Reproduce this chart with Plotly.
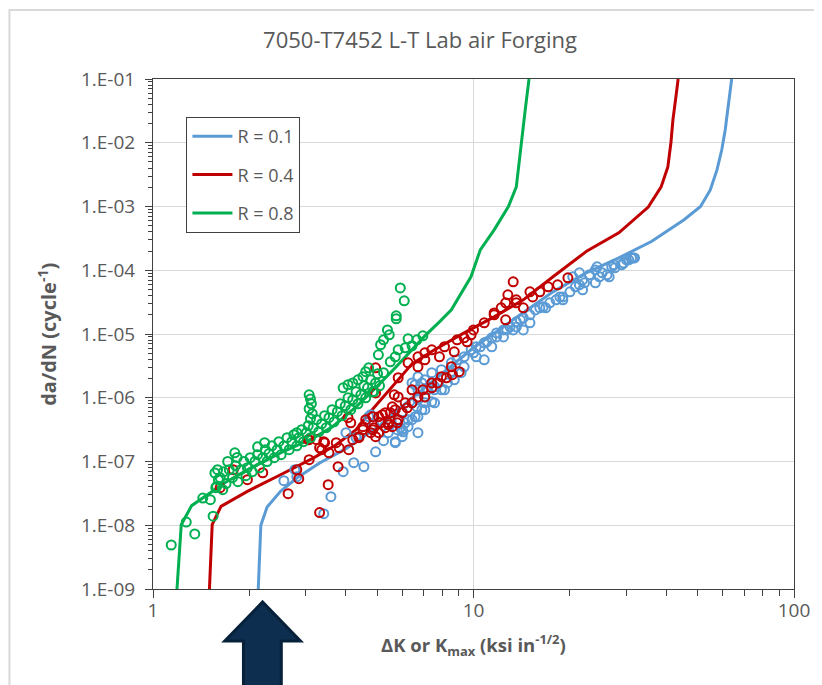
import plotly.graph_objects as go

# ---------------- data ----------------
title_text = "7050-T7452 L-T Lab air Forging"
series_names = ["R = 0.1", "R = 0.4", "R = 0.8"]
series_colors = ["#5B9BD5", "#C00000", "#00B050"]

y_tick_vals = [1e-1, 1e-2, 1e-3, 1e-4, 1e-5, 1e-6, 1e-7, 1e-8, 1e-9]
y_tick_text = ["1.E-01", "1.E-02", "1.E-03", "1.E-04", "1.E-05", "1.E-06", "1.E-07", "1.E-08", "1.E-09"]
x_tick_vals = [1, 10, 100]
x_tick_text = ["1", "10", "100"]

# model curves
blue_model_K = [2.13, 2.17, 2.27, 2.50, 2.81, 3.31, 4.0, 5.06, 5.70, 7.56, 10.0, 13.3, 17.7, 22.4, 28.3,
                35.9, 45.4, 51.1, 54.8, 57.5, 59.5, 61.0, 62.4, 63.9]
blue_model_dadn = [1e-9, 1.0e-8, 1.93e-8, 3.40e-8, 5.5e-8, 9.5e-8, 1.59e-7, 3.55e-7, 6.0e-7, 1.91e-6, 6.08e-6,
                   1.67e-5, 4.58e-5, 9.0e-5, 1.55e-4, 2.82e-4, 6.2e-4, 1.0e-3, 1.82e-3, 3.75e-3, 7.7e-3,
                   1.59e-2, 4.16e-2, 1e-1]

red_model_K = [1.50, 1.53, 1.63, 1.97, 2.50, 3.16, 3.73, 4.30, 4.71, 5.58, 6.43, 7.56, 9.35, 11.6, 14.3,
               17.7, 22.6, 28.4, 35.1, 38.5, 40.4, 41.3, 41.9, 42.8, 43.5]
red_model_dadn = [1e-9, 1.02e-8, 1.98e-8, 3.40e-8, 6.2e-8, 1.13e-7, 1.83e-7, 3.15e-7, 5.6e-7, 1.49e-6, 3.41e-6,
                  5.66e-6, 1.04e-5, 1.86e-5, 3.43e-5, 7.9e-5, 2.01e-4, 3.86e-4, 9.8e-4, 2.03e-3, 4.17e-3,
                  1.0e-2, 2.28e-2, 5.2e-2, 1e-1]

green_model_K = [1.188, 1.225, 1.32, 1.45, 1.67, 1.97, 2.50, 3.16, 3.64, 4.30, 4.95, 5.70, 6.34, 7.05, 7.83,
                 8.53, 9.82, 10.5, 11.6, 12.85, 13.6, 14.1, 14.5, 14.9]
green_model_dadn = [1e-9, 1.02e-8, 2.03e-8, 2.78e-8, 4.6e-8, 7.4e-8, 1.36e-7, 2.33e-7, 3.55e-7, 7.22e-7, 1.43e-6,
                    2.95e-6, 5.26e-6, 9.35e-6, 1.55e-5, 2.39e-5, 7.9e-5, 2.09e-4, 4.30e-4, 1.0e-3, 2.03e-3,
                    8.6e-3, 3.27e-2, 1e-1]

# test data, R = 0.1
blue_K = [2.56, 2.77, 2.81, 3.41, 3.59, 3.92, 4.23, 4.55, 4.95, 4.00, 4.30, 4.71, 4.88, 5.70, 5.78, 5.91, 6.12,
          6.43, 6.71, 6.90, 6.57, 6.90, 7.20, 7.56, 7.94, 8.29, 8.71, 9.15, 6.43, 6.71, 7.05, 7.41, 5.99, 5.82,
          6.03, 6.71, 5.70, 5.99, 6.25, 6.66, 6.43, 6.71, 7.05, 7.41, 6.71, 7.05, 7.56, 7.72, 7.94, 8.53, 8.89,
          9.35, 9.83, 10.2, 10.8, 11.4, 11.8, 12.4, 13.0, 13.6, 14.3, 15.0, 15.6, 16.5, 17.3, 18.1, 19.0, 20.0,
          20.8, 21.9, 23.0, 24.0, 25.2, 26.5, 27.6, 29.0, 30.5, 31.8, 13.6, 14.3, 12.4, 11.4, 10.2, 9.35, 8.53,
          8.12, 7.56, 7.05, 6.57, 6.25, 5.99, 4.78, 10.0, 10.5, 11.0, 11.8, 12.7, 14.0, 16.1, 18.6, 21.4, 24.3,
          24.7, 26.1, 27.4, 30.0, 31.1, 10.8, 13.3, 15.0, 16.8, 19.0, 21.9, 24.0, 20.4, 21.4, 27.0, 29.4, 31.5,
          22.2, 5.24, 5.42, 5.54]
blue_dadn = [5.0e-8, 7.43e-8, 5.78e-8, 1.52e-8, 2.81e-8, 6.91e-8, 9.6e-8, 8.28e-8, 1.42e-7, 2.83e-7, 2.36e-7,
             5.04e-7, 3.78e-7, 2.05e-7, 3.15e-7, 3.39e-7, 4.05e-7, 4.52e-7, 5.04e-7, 6.49e-7, 1.6e-6, 1.71e-6,
             1.33e-6, 1.49e-6, 1.33e-6, 1.71e-6, 1.91e-6, 2.47e-6, 8.34e-7, 9.3e-7, 8.34e-7, 8.65e-7, 6.04e-7,
             4.52e-7, 2.93e-7, 2.83e-7, 1.97e-7, 3.15e-7, 4.52e-7, 7.22e-7, 1.71e-6, 2.14e-6, 1.91e-6, 2.47e-6,
             1.33e-6, 1.03e-6, 1.33e-6, 1.71e-6, 2.75e-6, 3.53e-6, 3.94e-6, 4.39e-6, 5.65e-6, 6.31e-6, 7.26e-6,
             8.7e-6, 1.04e-5, 1.16e-5, 1.29e-5, 1.55e-5, 1.79e-5, 2.0e-5, 2.39e-5, 2.67e-5, 3.09e-5, 3.44e-5,
             3.82e-5, 4.59e-5, 5.49e-5, 7.08e-5, 8.47e-5, 1.01e-4, 9.1e-5, 7.88e-5, 1.09e-4, 1.22e-4, 1.46e-4,
             1.56e-4, 1.29e-5, 1.16e-5, 9.0e-6, 6.31e-6, 4.39e-6, 3.06e-6, 2.47e-6, 1.33e-6, 8.34e-7, 6.49e-7,
             5.04e-7, 3.52e-7, 2.45e-7, 5.42e-7, 5.07e-6, 6.31e-6, 7.53e-6, 9.0e-6, 1.16e-5, 1.67e-5, 2.57e-5,
             3.82e-5, 5.9e-5, 1.13e-4, 7.88e-5, 8.47e-5, 1.22e-4, 1.46e-4, 1.56e-4, 3.94e-6, 1.16e-5, 1.50e-5,
             2.57e-5, 3.44e-5, 4.93e-5, 6.35e-5, 7.88e-5, 9.1e-5, 1.13e-4, 1.30e-4, 1.56e-4, 6.35e-5, 2.12e-7,
             2.83e-7, 4.2e-7]

# test data, R = 0.4
red_K = [1.62, 1.78, 1.97, 2.20, 2.64, 2.85, 2.81, 3.07, 3.31, 3.52, 3.31, 3.54, 3.78, 4.08, 4.20, 4.39, 4.52,
         4.85, 5.06, 5.31, 5.58, 3.05, 3.24, 3.41, 3.36, 3.81, 4.06, 4.14, 4.78, 4.95, 4.88, 5.42, 5.06, 5.20,
         5.50, 5.66, 5.82, 4.95, 5.78, 5.99, 6.21, 6.43, 6.71, 6.95, 7.41, 7.72, 8.23, 8.59, 9.02, 4.95, 5.82,
         6.25, 6.71, 7.05, 7.41, 7.83, 8.12, 8.89, 9.35, 9.83, 8.71, 8.53, 7.94, 7.41, 6.43, 6.12, 7.05, 5.31,
         4.85, 4.61, 4.39, 5.13, 5.58, 10.8, 11.6, 12.2, 12.6, 13.3, 12.6, 14.3, 15.3, 16.1, 17.1, 18.3, 19.7,
         15.0, 13.6, 12.8, 13.6, 10.0, 9.55, 11.6, 3.07, 3.43, 3.73, 4.52, 5.42, 5.82, 6.71, 7.05, 5.70]
red_dadn = [3.88e-8, 7.43e-8, 5.19e-8, 6.66e-8, 3.13e-8, 5.38e-8, 7.43e-8, 1.07e-7, 1.64e-7, 4.33e-8, 1.58e-8,
            1.37e-7, 8.28e-8, 1.53e-7, 2.2e-7, 2.36e-7, 3.52e-7, 3.15e-7, 2.83e-7, 3.39e-7, 3.52e-7, 2.2e-7,
            2.2e-7, 2.05e-7, 1.53e-7, 1.64e-7, 4.86e-7, 4.05e-7, 2.83e-7, 2.45e-7, 3.39e-7, 3.78e-7, 5.04e-7,
            5.42e-7, 5.82e-7, 1.11e-6, 1.03e-6, 1.19e-6, 4.05e-7, 5.82e-7, 6.96e-7, 8.34e-7, 1.03e-6, 1.33e-6,
            1.43e-6, 1.71e-6, 2.06e-6, 2.3e-6, 2.56e-6, 2.95e-6, 2.06e-6, 3.53e-6, 4.39e-6, 5.07e-6, 5.65e-6,
            4.39e-6, 6.31e-6, 8.1e-6, 8.7e-6, 9.7e-6, 5.26e-6, 3.06e-6, 2.14e-6, 1.71e-6, 1.33e-6, 8.34e-7,
            1.03e-6, 5.82e-7, 5.04e-7, 4.52e-7, 2.45e-7, 4.05e-7, 7.22e-7, 1.50e-5, 2.0e-5, 2.57e-5, 3.09e-5,
            6.59e-5, 1.67e-5, 2.57e-5, 3.82e-5, 4.59e-5, 5.49e-5, 5.9e-5, 7.6e-5, 4.59e-5, 3.09e-5, 4.11e-5,
            3.44e-5, 1.16e-5, 7.53e-6, 2.14e-5, 2.2e-7, 1.97e-7, 1.97e-7, 3.15e-7, 4.05e-7, 4.52e-7, 3.06e-6,
            3.94e-6, 6.49e-7]

# test data, R = 0.8
green_K = [1.14, 1.35, 1.27, 1.54, 1.43, 1.51, 1.58, 1.56, 1.71, 1.83,
           1.57, 1.60, 1.65, 1.59, 1.62, 1.66, 1.69, 1.73, 1.77, 1.81, 1.84, 1.88, 1.92, 1.95, 1.97, 2.01, 2.04,
           2.08, 2.12, 2.15, 2.20, 2.24, 2.27, 2.30, 2.35, 2.39, 2.44, 2.47, 2.51, 2.56, 2.62, 2.66, 2.71, 2.75,
           2.81, 2.85, 2.91, 2.95, 3.01, 3.05, 3.10, 3.16, 3.24, 3.29, 3.36, 3.43, 3.47, 3.54, 3.62, 3.67, 3.76,
           3.84, 3.89, 3.98, 4.06, 4.14, 4.20, 4.30, 4.36, 4.45, 4.55, 4.61, 4.67, 4.78, 4.85, 4.95, 5.02, 5.09,
           3.07, 3.10, 3.12, 3.07, 3.14, 3.10,
           1.80, 2.23, 2.81, 2.12,
           5.91, 6.08, 5.74, 5.74, 5.39, 5.46, 5.24, 5.13, 6.25, 6.95, 6.66, 6.43, 6.12, 5.82, 5.70, 5.24, 4.71,
           4.61, 4.52, 4.36, 4.20, 4.06, 3.92, 4.88, 5.50, 5.05]
green_dadn = [4.9e-9, 7.3e-9, 1.12e-8, 1.39e-8, 2.67e-8, 2.52e-8, 4.07e-8, 6.6e-8, 1.0e-7, 1.16e-7,
              3.88e-8, 5.19e-8, 3.61e-8, 7.43e-8, 5.57e-8, 6.9e-8, 4.5e-8, 7.43e-8, 5.57e-8, 8.6e-8, 4.83e-8,
              7.43e-8, 1.0e-7, 5.99e-8, 7.98e-8, 1.15e-7, 6.9e-8, 1.0e-7, 1.28e-7, 7.98e-8, 1.15e-7, 1.53e-7,
              1.0e-7, 1.33e-7, 1.76e-7, 1.15e-7, 1.53e-7, 2.05e-7, 1.28e-7, 1.76e-7, 2.36e-7, 1.53e-7, 2.05e-7,
              2.63e-7, 1.76e-7, 2.36e-7, 3.15e-7, 2.05e-7, 2.83e-7, 3.65e-7, 2.36e-7, 3.39e-7, 4.52e-7, 2.93e-7,
              3.91e-7, 5.23e-7, 3.39e-7, 4.86e-7, 6.49e-7, 4.2e-7, 6.04e-7, 8.05e-7, 5.23e-7, 7.48e-7, 9.96e-7,
              6.49e-7, 9.3e-7, 1.24e-6, 8.05e-7, 1.11e-6, 1.54e-6, 9.96e-7, 1.43e-6, 1.91e-6, 1.24e-6, 1.71e-6,
              2.38e-6, 1.54e-6,
              1.11e-6, 9.6e-7, 8.05e-7, 6.72e-7, 5.62e-7, 4.69e-7,
              1.37e-7, 1.97e-7, 2.83e-7, 1.70e-7,
              5.29e-5, 3.32e-5, 1.93e-5, 1.73e-5, 1.16e-5, 9.7e-6, 8.1e-6, 6.78e-6, 8.4e-6, 9.35e-6, 8.1e-6,
              6.54e-6, 6.08e-6, 5.65e-6, 4.39e-6, 2.47e-6, 2.95e-6, 2.56e-6, 2.14e-6, 1.91e-6, 1.71e-6, 1.6e-6,
              1.43e-6, 1.24e-6, 3.66e-6, 4.72e-6]

# ---------------- figure ----------------
FONT = "Open Sans, Noto Sans, sans-serif"
GREY = "#595959"
AXC = "#404040"

fig = go.Figure()

model_sets = [(blue_model_K, blue_model_dadn), (red_model_K, red_model_dadn), (green_model_K, green_model_dadn)]
point_sets = [(blue_K, blue_dadn), (red_K, red_dadn), (green_K, green_dadn)]

for i, (kx, dy) in enumerate(model_sets):
    fig.add_trace(go.Scatter(x=kx, y=dy, mode="lines", name=series_names[i],
                             legendgroup=f"g{i}",
                             line=dict(color=series_colors[i], width=3), showlegend=True))

for i, (kx, dy) in enumerate(point_sets):
    fig.add_trace(go.Scatter(x=kx, y=dy, mode="markers", name=series_names[i] + " data",
                             showlegend=False,
                             marker=dict(symbol="circle-open", size=9, color=series_colors[i],
                                         line=dict(color=series_colors[i], width=2))))

minor_y = [m * 10.0 ** e for e in range(-9, -1) for m in range(2, 10)]
minor_x = [m * 10.0 ** e for e in range(0, 2) for m in range(2, 10)]

fig.update_xaxes(type="log", range=[0, 2], tickmode="array", tickvals=x_tick_vals, ticktext=x_tick_text,
                 ticks="outside", ticklen=8, tickcolor=AXC, tickwidth=1, ticklabelstandoff=-4,
                 showgrid=True, gridcolor="#D9D9D9", gridwidth=1,
                 showline=True, linecolor=AXC, linewidth=1, mirror=True, zeroline=False,
                 tickfont=dict(family=FONT, size=19, color=GREY),
                 minor=dict(tickmode="array", tickvals=minor_x, ticks="outside", ticklen=6,
                            tickcolor=AXC, showgrid=False))
fig.update_yaxes(type="log", range=[-9, -1], tickmode="array", tickvals=y_tick_vals, ticktext=y_tick_text,
                 ticks="outside", ticklen=7, tickcolor=AXC, tickwidth=1, ticklabelstandoff=6,
                 showgrid=True, gridcolor="#D9D9D9", gridwidth=1,
                 showline=True, linecolor=AXC, linewidth=1, mirror=True, zeroline=False,
                 tickfont=dict(family=FONT, size=19, color=GREY),
                 minor=dict(tickmode="array", tickvals=minor_y, ticks="outside", ticklen=4,
                            tickcolor=AXC, showgrid=False))

# page body adds an 8px offset, so the figure is sized and positioned to compensate
O = 8
W, H = 822 - O, 685 - O
L, T = 153 - O, 79 - O
R = W - (805 - O)
B = H - (589 - O)
pw, ph = W - L - R, H - T - B


def px(x):
    return (x - O - L) / pw


def py(y):
    return (H - B - (y - O)) / ph


arrow_path = ("M {a},{b} L {c},{d} L {e},{d} L {e},{f} L {g},{f} L {g},{d} L {h},{d} Z").format(
    a=px(264.5), b=py(602), c=px(303), d=py(641), e=px(283.5), f=py(710), g=px(245), h=px(226))

fig.update_layout(
    width=W, height=H,
    margin=dict(l=L, r=R, t=T, b=B),
    paper_bgcolor="white", plot_bgcolor="white",
    font=dict(family=FONT, color=GREY),
    title=dict(text=title_text, x=(420 - O) / W, xref="container", xanchor="center",
               y=1 - (40 - O) / H, yref="container", yanchor="middle",
               font=dict(family=FONT, size=22, color=GREY)),
    legend=dict(x=px(187), y=py(117), xanchor="left", yanchor="top",
                bgcolor="white", bordercolor=AXC, borderwidth=1,
                font=dict(family=FONT, size=18, color=GREY),
                itemwidth=40,
                tracegroupgap=12, traceorder="grouped"),
    annotations=[
        dict(text="da/dN (cycle<sup>-1</sup>)", xref="paper", yref="paper", x=px(45), y=py(334),
             textangle=-90, showarrow=False, xanchor="center", yanchor="middle",
             font=dict(family=FONT, size=20, color=GREY, weight="bold")),
        dict(text="ΔK or K<sub>max</sub> (ksi in<sup>-1/2</sup>)", xref="paper", yref="paper",
             x=px(479), y=py(645), showarrow=False, xanchor="center", yanchor="middle",
             font=dict(family=FONT, size=18.5, color=GREY, weight="bold")),
    ],
    shapes=[
        dict(type="rect", xref="paper", yref="paper", x0=px(7), y0=py(720), x1=px(840), y1=py(10),
             line=dict(color="#D9D9D9", width=2), fillcolor="rgba(0,0,0,0)", layer="below"),
        dict(type="path", xref="paper", yref="paper", path=arrow_path,
             fillcolor="#0D2E4F", line=dict(color="#08213A", width=3)),
    ],
)

fig.write_html("out.html")
